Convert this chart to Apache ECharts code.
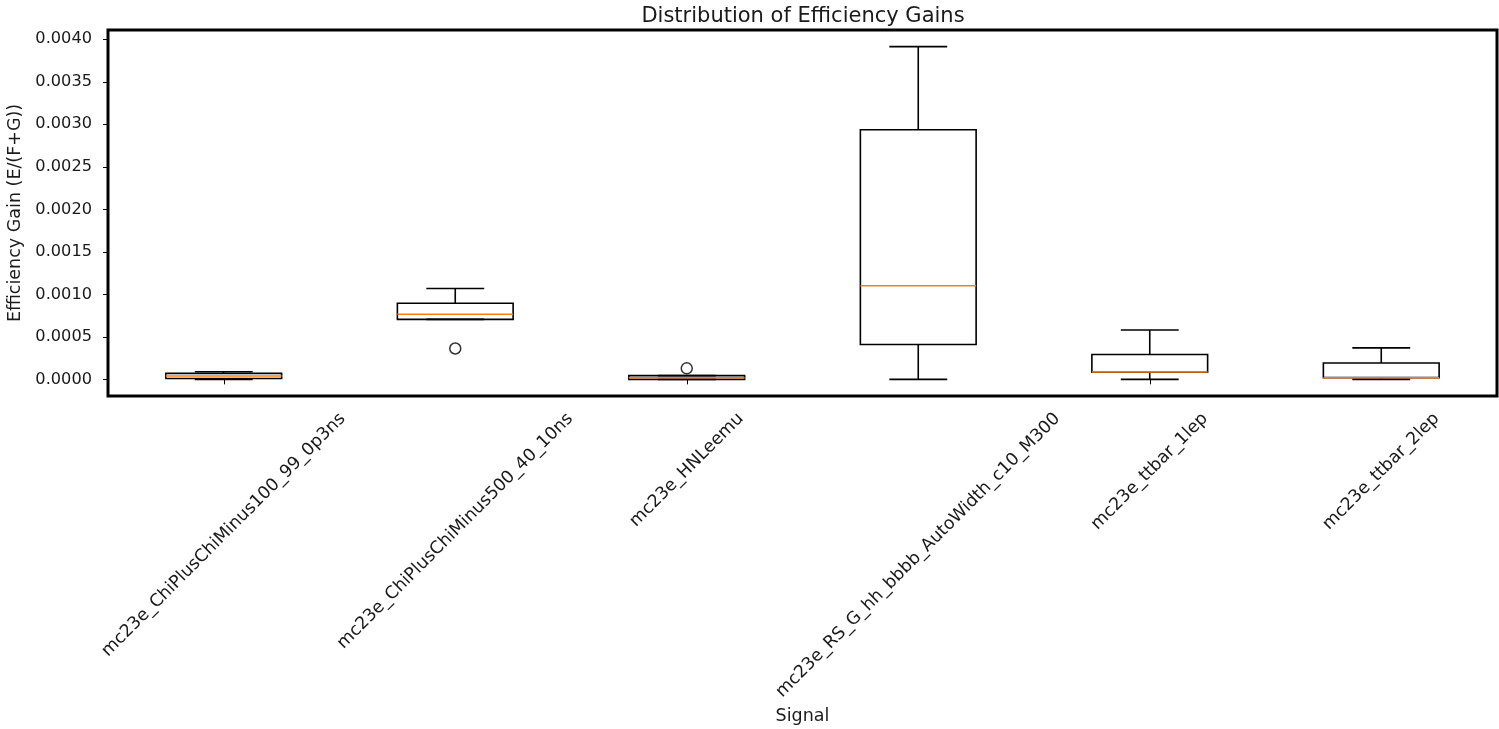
<!DOCTYPE html>
<html>
<head>
<meta charset="utf-8">
<title>Distribution of Efficiency Gains</title>
<script src="https://cdn.jsdelivr.net/npm/echarts@6/dist/echarts.min.js"></script>
<style>
  html, body { margin: 0; padding: 0; background: #fff; }
  #chart { width: 1499px; height: 729px; }
</style>
</head>
<body>
<div id="chart"></div>
<script>
// Signal samples on the x axis
const categories = [
  'mc23e_ChiPlusChiMinus100_99_0p3ns',
  'mc23e_ChiPlusChiMinus500_40_10ns',
  'mc23e_HNLeemu',
  'mc23e_RS_G_hh_bbbb_AutoWidth_c10_M300',
  'mc23e_ttbar_1lep',
  'mc23e_ttbar_2lep'
];

// Box statistics per signal: lower whisker, Q1, median, Q3, upper whisker
const whiskerLow  = [0.00000, 0.000706, 0.00000, 0.00000, 0.00000, 0.00000];
const quartile1   = [0.00001, 0.000706, 0.00000, 0.00041, 0.000083, 0.00002];
const medians     = [0.00004, 0.000765, 0.00002, 0.00110, 0.000087, 0.00002];
const quartile3   = [0.00007, 0.000896, 0.000044, 0.002935, 0.000292, 0.000193];
const whiskerHigh = [0.00009, 0.001069, 0.000044, 0.003913, 0.00058, 0.00037];

// Fliers: [signal index, value]
const outliers = [
  [1, 0.000363],
  [2, 0.00013]
];

// Y tick labels
const yTicks = [0, 0.0005, 0.001, 0.0015, 0.002, 0.0025, 0.003, 0.0035, 0.004];

const FONT = '"DejaVu Sans", "Liberation Sans", sans-serif';
const TEXT_COLOR = '#1a1a1a';
const X_LABEL_SIZE = 17.4;

const boxData = categories.map((c, i) =>
  [i, whiskerLow[i], quartile1[i], medians[i], quartile3[i], whiskerHigh[i]]);

const yLo = Math.min(...whiskerLow, ...outliers.map(o => o[1]));
const yHi = Math.max(...whiskerHigh, ...outliers.map(o => o[1]));
const pad = (yHi - yLo) * 0.05;

// text metrics for the rotated, centred tick labels
const measureCtx = document.createElement('canvas').getContext('2d');
measureCtx.font = X_LABEL_SIZE + 'px ' + FONT;

function renderBox(params, api) {
  const i = api.value(0);
  const band = api.size([1, 0])[0];
  const half = band * 0.25;
  const capHalf = band * 0.125;
  const p = k => api.coord([i, api.value(k)]);
  const lo = p(1), q1 = p(2), md = p(3), q3 = p(4), hi = p(5);
  const x = lo[0];
  const stroke = { stroke: '#000', lineWidth: 1.6, fill: null };
  return {
    type: 'group',
    children: [
      { type: 'line', shape: { x1: x, y1: q1[1], x2: x, y2: lo[1] }, style: stroke },
      { type: 'line', shape: { x1: x, y1: q3[1], x2: x, y2: hi[1] }, style: stroke },
      { type: 'line', shape: { x1: x - capHalf, y1: lo[1], x2: x + capHalf, y2: lo[1] }, style: stroke },
      { type: 'line', shape: { x1: x - capHalf, y1: hi[1], x2: x + capHalf, y2: hi[1] }, style: stroke },
      { type: 'rect', shape: { x: x - half, y: q3[1], width: half * 2, height: q1[1] - q3[1] }, style: stroke },
      { type: 'line', shape: { x1: x - half, y1: md[1], x2: x + half, y2: md[1] },
        style: { stroke: '#ff7f0e', lineWidth: 1.5 } }
    ]
  };
}

function renderLabel(params, api) {
  const i = api.value(0);
  const cs = params.coordSys;
  const x = api.coord([i, 0])[0];
  const text = categories[i];
  const w = measureCtx.measureText(text).width;
  const h = X_LABEL_SIZE * 1.15;
  const halfExtent = (w + h) * Math.SQRT1_2 / 2;
  return {
    type: 'text',
    x: x,
    y: cs.y + cs.height + 13 + halfExtent,
    rotation: Math.PI / 4,
    style: {
      text: text,
      fontSize: X_LABEL_SIZE,
      fontFamily: FONT,
      fill: TEXT_COLOR,
      align: 'center',
      verticalAlign: 'middle'
    }
  };
}

const chart = echarts.init(document.getElementById('chart'), null, { renderer: 'canvas' });

chart.setOption({
  backgroundColor: '#fff',
  animation: false,
  title: {
    text: 'Distribution of Efficiency Gains',
    left: 798,
    top: 1,
    textAlign: 'center',
    textStyle: { fontFamily: FONT, fontSize: 21, fontWeight: 'normal', color: TEXT_COLOR }
  },
  grid: {
    left: 108, right: 2, top: 30, bottom: 333,
    outerBoundsMode: 'none',
    containLabel: false,
    show: true, borderColor: '#000', borderWidth: 3, backgroundColor: 'transparent'
  },
  xAxis: {
    type: 'category',
    data: categories,
    boundaryGap: true,
    name: 'Signal',
    nameLocation: 'middle',
    nameGap: 311,
    nameTextStyle: { fontFamily: FONT, fontSize: 17.5, color: TEXT_COLOR },
    axisLine: { show: false },
    axisTick: { show: true, alignWithLabel: true, length: 5, lineStyle: { color: '#000', width: 1 } },
    axisLabel: { show: false },
    splitLine: { show: false }
  },
  yAxis: {
    type: 'value',
    min: yLo - pad,
    max: yHi + pad,
    name: 'Efficiency Gain (E/(F+G))',
    nameLocation: 'middle',
    nameGap: 84,
    nameTextStyle: { fontFamily: FONT, fontSize: 17.5, color: TEXT_COLOR },
    axisLine: { show: false },
    axisTick: { show: true, length: 5, customValues: yTicks, lineStyle: { color: '#000', width: 1 } },
    axisLabel: {
      customValues: yTicks,
      margin: 16,
      fontFamily: FONT,
      fontSize: 16.2,
      color: TEXT_COLOR,
      formatter: v => v.toFixed(4)
    },
    splitLine: { show: false }
  },
  series: [
    {
      type: 'custom',
      name: 'boxes',
      data: boxData,
      encode: { x: 0, y: [1, 2, 3, 4, 5] },
      renderItem: renderBox,
      silent: true,
      z: 3
    },
    {
      type: 'scatter',
      name: 'outliers',
      data: outliers,
      symbol: 'circle',
      symbolSize: 11,
      itemStyle: { color: 'rgba(0,0,0,0)', borderColor: '#000', borderWidth: 1.5 },
      silent: true,
      z: 4
    },
    {
      type: 'custom',
      name: 'labels',
      data: categories.map((c, i) => [i, 0]),
      encode: { x: 0, y: 1 },
      renderItem: renderLabel,
      clip: false,
      silent: true,
      z: 5
    }
  ]
});
</script>
</body>
</html>
